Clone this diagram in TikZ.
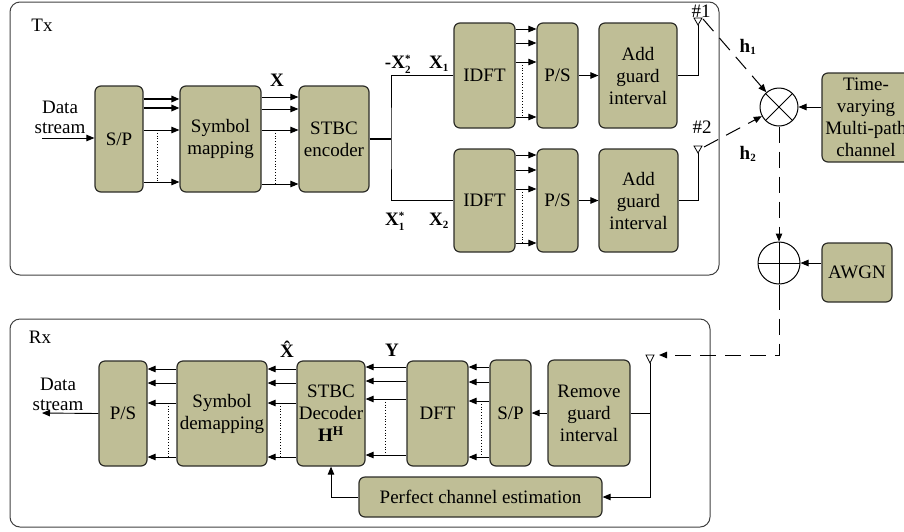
\documentclass[tikz,border=0pt]{standalone}
\usepackage{fontspec}
\setmainfont{Liberation Serif}
\usetikzlibrary{arrows.meta,calc}
\definecolor{blockfill}{RGB}{191,190,150}
\definecolor{blockline}{RGB}{45,45,40}
% bold symbols with sub/superscripts set in the text font
\newcommand{\bsym}[3]{$\hbox{\bfseries #1}^{\hbox{\fontsize{11}{11}\selectfont #2}}_{\hbox{\fontsize{11}{11}\selectfont\bfseries #3}}$}
\newcommand{\bsub}[2]{$\hbox{\bfseries #1}_{\hbox{\fontsize{11}{11}\selectfont\bfseries #2}}$}

\begin{document}
\begin{tikzpicture}[x=1pt,y=-1pt,
  font=\fontsize{19}{22}\selectfont,
  block/.style={draw=blockline,fill=blockfill,line width=1.2pt,rounded corners=6pt,
                inner sep=0pt,align=center},
  frame/.style={draw=black!75,line width=1pt,rounded corners=10pt},
  tip/.style={-{Triangle[length=8pt,width=6.5pt]}},
  sig/.style={line width=0.9pt,tip},
  wire/.style={line width=0.9pt},
  par/.style={dotted,line width=0.8pt},
  air/.style={line width=1pt,dash pattern=on 16pt off 9pt},
  lbl/.style={inner sep=0pt,font=\fontsize{19}{20}\selectfont\bfseries},
  txt/.style={inner sep=0pt,align=center,font=\fontsize{19}{20}\selectfont},
  antenna/.style={draw,line width=0.8pt,fill=white,line join=miter}
]
\useasboundingbox (0,0) rectangle (904,531);
\clip (0,0) rectangle (904,531);

% ---------- frames ----------
\draw[frame] (10,2) rectangle (719,275);
\draw[frame] (10,319) rectangle (710,527);
\node[txt] (txlabel) at (42,25) {Tx};
\node[txt] (rxlabel) at (40,337) {Rx};

% ---------- transmitter blocks ----------
\node[block,minimum width=48pt,minimum height=106pt] (sp1) at (119,139) {S/P};
\node[block,minimum width=81pt,minimum height=106pt] (map) at (220.5,139) {Symbol\\mapping};
\node[block,minimum width=70pt,minimum height=106pt] (enc) at (334,139) {STBC\\encoder};
\node[block,minimum width=61pt,minimum height=105pt] (idft1) at (484.5,75.5) {IDFT};
\node[block,minimum width=61pt,minimum height=103pt] (idft2) at (484.5,200.5) {IDFT};
\node[block,minimum width=41pt,minimum height=105pt] (ps1) at (557.5,75.5) {P/S};
\node[block,minimum width=41pt,minimum height=103pt] (ps2) at (557.5,200.5) {P/S};
\node[block,minimum width=78pt,minimum height=105pt] (agi1) at (638,75.5) {Add\\guard\\interval};
\node[block,minimum width=79pt,minimum height=103pt] (agi2) at (638.5,200.5) {Add\\guard\\interval};

% ---------- channel ----------
\node[block,minimum width=88pt,minimum height=89pt] (chan) at (866,117.5) {Time-\\varying\\Multi-path\\channel};
\node[block,minimum width=70pt,minimum height=59pt] (awgn) at (857,272.5) {AWGN};
\node[draw,circle,line width=1pt,minimum size=38pt,inner sep=0pt,
  path picture={\draw[line width=0.9pt] (path picture bounding box.north west) -- (path picture bounding box.south east)
                 (path picture bounding box.north east) -- (path picture bounding box.south west);}]
  (mult) at (779,107) {};
\node[draw,circle,line width=1pt,minimum size=42pt,inner sep=0pt,
  path picture={\draw[line width=0.9pt] (path picture bounding box.north) -- (path picture bounding box.south)
                 (path picture bounding box.west) -- (path picture bounding box.east);}]
  (sum) at (779,263) {};

% ---------- receiver blocks ----------
\node[block,minimum width=48pt,minimum height=105pt] (ps3) at (123,413.5) {P/S};
\node[block,minimum width=90pt,minimum height=105pt] (demap) at (222,413.5) {Symbol\\demapping};
\node[block,minimum width=68pt,minimum height=105pt] (dec) at (331,413.5) {STBC\\Decoder\\\textbf{H}\textsuperscript{\textbf{H}}};
\node[block,minimum width=61pt,minimum height=105pt] (dft) at (437.5,413.5) {DFT};
\node[block,minimum width=41pt,minimum height=106pt] (sp2) at (510.5,413) {S/P};
\node[block,minimum width=82pt,minimum height=106pt] (rgi) at (589,413) {Remove\\guard\\interval};
\node[block,minimum width=243pt,minimum height=40pt] (pce) at (480.5,497) {Perfect channel estimation};

% ---------- antennas ----------
\draw[antenna] (694,18) -- (702,18) -- (698,25) -- cycle;
\coordinate (a1) at (698,25);
\coordinate (a1r) at (703,19);
\draw[antenna] (694,146) -- (702,146) -- (698,153) -- cycle;
\coordinate (a2) at (698,153);
\coordinate (a2r) at (704,147);
\draw[antenna] (646,355) -- (654,355) -- (650,363) -- cycle;
\coordinate (a3) at (650,363);
\node[txt] (n1) at (701,11) {\#1};
\node[txt] (n2) at (702,127) {\#2};

% ---------- transmitter connections ----------
\coordinate (txin) at (42,138);
\node[txt] (dstx) at (60,117) {Data\\stream};
\draw[sig] (txin) -- (sp1.west |- txin);

\foreach \y/\w in {99/1.6pt,108/1.6pt,130/0.9pt,182/0.9pt}{
  \coordinate (t) at (0,\y);
  \draw[sig,line width=\w] (sp1.east |- t) -- (map.west |- t);
}
\draw[par] (157,130) -- (157,182);
\foreach \y in {97,109,130,184}{
  \coordinate (t) at (0,\y);
  \draw[sig] (map.east |- t) -- (enc.west |- t);
}
\draw[par] (275,130) -- (275,184);
\node[lbl] (xlab) at (277,80) {X};

\coordinate (br) at (391,139);
\draw[wire,line width=1.6pt] (enc.east) -- (br);
\draw[wire] (idft1.west) -| (br) |- (idft2.west);
\node[lbl] (lx2c) at (398,64) {\bsym{-X}{*}{2}};
\node[lbl] (lx1) at (439,64) {\bsub{X}{1}};
\node[lbl] (lx1c) at (395,221) {\bsym{X}{*}{1}};
\node[lbl] (lx2) at (439,221) {\bsub{X}{2}};

\foreach \y in {29,43,62,117}{
  \coordinate (t) at (0,\y);
  \draw[sig] (idft1.east |- t) -- (ps1.west |- t);
}
\draw[par] (522,62) -- (522,117);
\foreach \y in {155,170,189,243}{
  \coordinate (t) at (0,\y);
  \draw[sig] (idft2.east |- t) -- (ps2.west |- t);
}
\draw[par] (522,189) -- (522,243);

\draw[sig] (ps1.east) -- (agi1.west);
\draw[sig] (ps2.east) -- (agi2.west);
\draw[wire] (agi1.east) -| (a1);
\draw[wire] (agi2.east) -| (a2);

% ---------- radio links ----------
\draw[air,tip] (a1r) -- (mult);
\draw[air,tip] (a2r) -- (mult);
\node[lbl] (h1) at (748,47) {\bsub{h}{1}};
\node[lbl] (h2) at (748,154) {\bsub{h}{2}};
\draw[sig] (chan.west |- mult) -- (mult);
\draw[air,tip] (mult) -- (sum);
\draw[sig] (awgn.west |- sum) -- (sum);
\draw[wire] (sum.south) -- ++(0,9) coordinate (sumtail);
\coordinate (rxin) at (659,355);
\draw[air,tip] (sumtail) |- (rxin);

% ---------- receiver connections ----------
\draw[sig] (rgi.west) -- (sp2.east);
\draw[wire] (rgi.east) -- (a3 |- rgi.east);
\draw[sig] (a3) |- (pce.east);
\draw[sig] (pce.west) -| (dec.south);

\foreach \y in {367,382,401,457}{
  \coordinate (t) at (0,\y);
  \draw[sig] (sp2.west |- t) -- (dft.east |- t);
}
\draw[par] (481,401) -- (481,457);
\foreach \y in {367,381,399,455}{
  \coordinate (t) at (0,\y);
  \draw[sig] (dft.west |- t) -- (dec.east |- t);
}
\draw[par] (385,399) -- (385,455);
\node[lbl] (ylab) at (392,350) {Y};
\foreach \y in {369,383,403,457}{
  \coordinate (t) at (0,\y);
  \draw[sig] (dec.west |- t) -- (demap.east |- t);
}
\draw[par] (280,403) -- (280,457);
\node[lbl] (xhat) at (287,349) {\^{X}};
\foreach \y in {369,383,403,457}{
  \coordinate (t) at (0,\y);
  \draw[sig] (demap.west |- t) -- (ps3.east |- t);
}
\draw[par] (168,403) -- (168,457);

\coordinate (rxout) at (42,413);
\node[txt] (dsrx) at (58,394) {Data\\stream};
\draw[sig] (ps3.west) -- (rxout);
\end{tikzpicture}
\end{document}
